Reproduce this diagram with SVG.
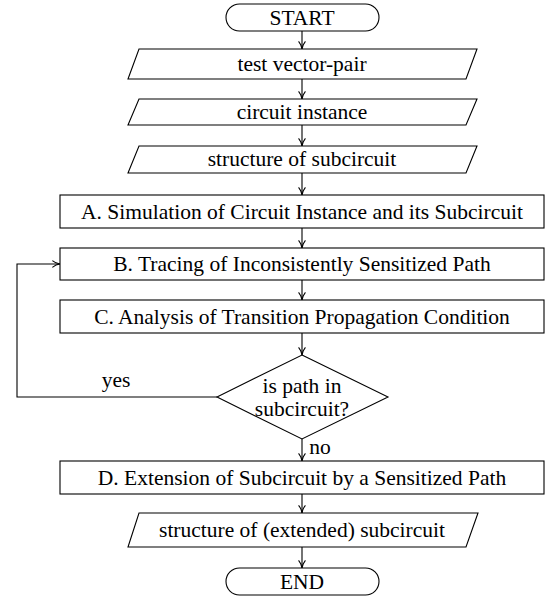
<svg xmlns="http://www.w3.org/2000/svg" width="552" height="598" viewBox="0 0 552 598" font-family="Times New Roman, Liberation Serif, serif" font-size="21.5">
<defs>
<marker id="arr" viewBox="0 0 10 10" refX="9.5" refY="5" markerWidth="9" markerHeight="9" markerUnits="userSpaceOnUse" orient="auto">
<path d="M1,1.2 Q5,4.5 9.5,5 Q5,5.5 1,8.8" fill="none" stroke="#000" stroke-width="1.2"/>
</marker>
</defs>
<rect width="552" height="598" fill="#fff"/>
<g id="connectors" fill="none" stroke="#000" stroke-width="1.1">
<line x1="302" y1="31" x2="302" y2="49" marker-end="url(#arr)"/>
<line x1="302" y1="79" x2="302" y2="99" marker-end="url(#arr)"/>
<line x1="302" y1="125" x2="302" y2="146" marker-end="url(#arr)"/>
<line x1="302" y1="173" x2="302" y2="195" marker-end="url(#arr)"/>
<line x1="302" y1="228" x2="302" y2="248" marker-end="url(#arr)"/>
<line x1="302" y1="280" x2="302" y2="300" marker-end="url(#arr)"/>
<line x1="302" y1="333" x2="302" y2="355" marker-end="url(#arr)"/>
<polyline points="217,397 17,397 17,264 60,264" marker-end="url(#arr)"/>
<line x1="302" y1="439" x2="302" y2="461" marker-end="url(#arr)"/>
<line x1="302" y1="494" x2="302" y2="513" marker-end="url(#arr)"/>
<line x1="302" y1="547" x2="302" y2="568" marker-end="url(#arr)"/>
</g>
<g id="labels" fill="#000" text-anchor="middle">
<text x="116" y="387">yes</text>
<text x="320" y="454">no</text>
</g>
<g id="start">
<rect x="226" y="4" width="153" height="27" rx="13.5" fill="#fff" stroke="#000" stroke-width="1.1"/>
<text x="302" y="25" text-anchor="middle">START</text>
</g>
<g id="in1">
<polygon points="139,49 477,49 466,79 128,79" fill="#fff" stroke="#000" stroke-width="1.1"/>
<text x="302" y="71" text-anchor="middle">test vector-pair</text>
</g>
<g id="in2">
<polygon points="139,99 477,99 466,125 128,125" fill="#fff" stroke="#000" stroke-width="1.1"/>
<text x="302" y="119" text-anchor="middle">circuit instance</text>
</g>
<g id="in3">
<polygon points="139,146 477,146 466,173 128,173" fill="#fff" stroke="#000" stroke-width="1.1"/>
<text x="302" y="166" text-anchor="middle">structure of subcircuit</text>
</g>
<g id="stepA">
<rect x="60" y="195" width="484" height="33" fill="#fff" stroke="#000" stroke-width="1.1"/>
<text x="302" y="219" text-anchor="middle">A. Simulation of Circuit Instance and its Subcircuit</text>
</g>
<g id="stepB">
<rect x="60" y="248" width="484" height="32" fill="#fff" stroke="#000" stroke-width="1.1"/>
<text x="302" y="271" text-anchor="middle">B. Tracing of Inconsistently Sensitized Path</text>
</g>
<g id="stepC">
<rect x="60" y="300" width="484" height="33" fill="#fff" stroke="#000" stroke-width="1.1"/>
<text x="302" y="324" text-anchor="middle">C. Analysis of Transition Propagation Condition</text>
</g>
<g id="decision">
<polygon points="302,355 388,397 302,439 217,397" fill="#fff" stroke="#000" stroke-width="1.1"/>
<text x="302" y="393" text-anchor="middle">is path in</text>
<text x="302" y="416" text-anchor="middle">subcircuit?</text>
</g>
<g id="stepD">
<rect x="60" y="461" width="484" height="33" fill="#fff" stroke="#000" stroke-width="1.1"/>
<text x="302" y="485" text-anchor="middle">D. Extension of Subcircuit by a Sensitized Path</text>
</g>
<g id="out">
<polygon points="139,513 478,513 466,547 128,547" fill="#fff" stroke="#000" stroke-width="1.1"/>
<text x="302" y="537" text-anchor="middle">structure of (extended) subcircuit</text>
</g>
<g id="end">
<rect x="226" y="568" width="153" height="27" rx="13.5" fill="#fff" stroke="#000" stroke-width="1.1"/>
<text x="302" y="589" text-anchor="middle">END</text>
</g>
</svg>
